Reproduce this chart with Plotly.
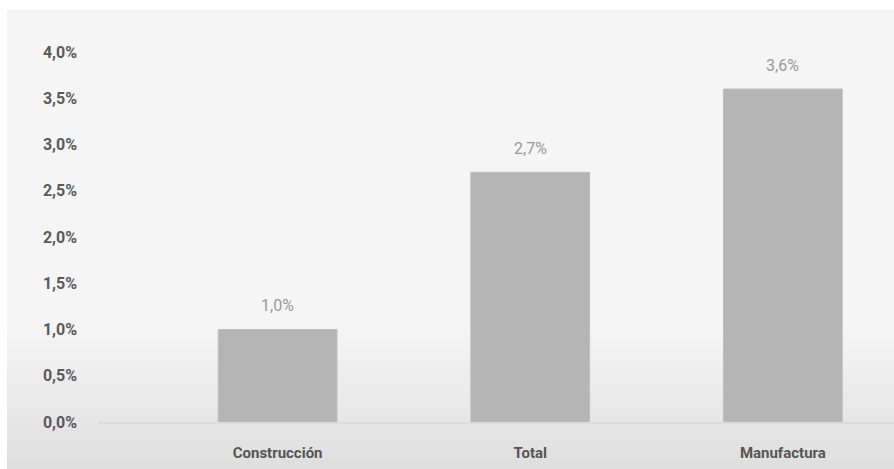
import plotly.graph_objects as go

categories = ["Construcción", "Total", "Manufactura"]
values = [1.0, 2.7, 3.6]
value_labels = ["1,0%", "2,7%", "3,6%"]
tick_vals = [0, 0.5, 1.0, 1.5, 2.0, 2.5, 3.0, 3.5, 4.0]
tick_text = ["0,0%", "0,5%", "1,0%", "1,5%", "2,0%", "2,5%", "3,0%", "3,5%", "4,0%"]

W, H = 894, 469
L, R, T, B = 98, 0, 40, 47
pw, ph = W - L - R, H - T - B

def px_x(p):
    return (p - L) / pw

def px_y(p):
    return (H - B - p) / ph

FONT = "Roboto"

fig = go.Figure()
fig.add_trace(go.Bar(
    x=[0, 1, 2], y=values, width=0.47,
    marker=dict(color="#b5b5b5", line=dict(color="#bdbdbd", width=1)),
    hoverinfo="skip",
))

shapes = []
shapes.append(dict(type="rect", xref="paper", yref="paper", layer="below",
                   x0=px_x(7), x1=px_x(W + 5), y0=px_y(H + 5), y1=px_y(10),
                   fillcolor="#f5f5f5", line=dict(width=0)))
start, end = 330, 470
n = 14
c0, c1 = 0xf5, 0xdf
for i in range(n):
    y0p = start + (end - start) * i / n
    y1p = start + (end - start) * (i + 1) / n
    c = int(c0 + (c1 - c0) * (i + 0.5) / n)
    col = "#%02x%02x%02x" % (c, c, c)
    shapes.append(dict(type="rect", xref="paper", yref="paper", layer="below",
                       x0=px_x(7), x1=px_x(W + 5), y0=px_y(y1p), y1=px_y(y0p),
                       fillcolor=col, line=dict(width=0)))

annotations = []
for i, (v, t) in enumerate(zip(values, value_labels)):
    annotations.append(dict(x=i, y=v, text=t, showarrow=False, yshift=24,
                            font=dict(family=FONT, size=16, color="#9a9a9a")))

fig.update_layout(
    width=W, height=H,
    margin=dict(l=L, r=R, t=T, b=B, pad=0),
    paper_bgcolor="white", plot_bgcolor="rgba(0,0,0,0)",
    showlegend=False,
    shapes=shapes,
    annotations=annotations,
    xaxis=dict(
        range=[-0.711, 2.44], tickvals=[0, 1, 2], ticktext=categories,
        showgrid=False, zeroline=False, showline=True, linecolor="#dcdcdc", linewidth=2,
        ticks="", ticklabelstandoff=16,
        tickfont=dict(family=FONT, size=15, color="#555555", weight="bold"),
    ),
    yaxis=dict(
        range=[0, 4.13], tickvals=tick_vals, ticktext=tick_text,
        showgrid=False, zeroline=False, showline=False, ticks="",
        ticklabelstandoff=20,
        tickfont=dict(family=FONT, size=16, color="#5a5a5a", weight="bold"),
    ),
)

fig.write_html("out.html")
